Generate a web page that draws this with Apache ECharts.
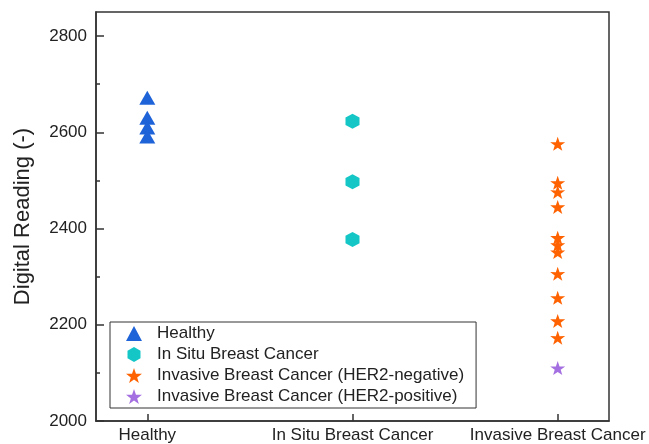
<!DOCTYPE html>
<html>
<head>
<meta charset="utf-8">
<script src="https://cdn.jsdelivr.net/npm/echarts@6/dist/echarts.min.js"></script>
<style>html,body{margin:0;padding:0;background:#fff;}#c{width:649px;height:444px;}</style>
</head>
<body>
<div id="c"></div>
<script>
var categories = ['Healthy', 'In Situ Breast Cancer', 'Invasive Breast Cancer'];
var seriesNames = ['Healthy', 'In Situ Breast Cancer', 'Invasive Breast Cancer (HER2-negative)', 'Invasive Breast Cancer (HER2-positive)'];
var healthy = [2672, 2630, 2610, 2591];
var inSitu = [2623, 2497, 2377];
var her2Negative = [2576, 2495, 2476, 2445, 2381, 2366, 2351, 2306, 2256, 2208, 2173];
var her2Positive = [2110];
var yMajorTicks = [2000, 2200, 2400, 2600, 2800];
var yMinorTicks = [2100, 2300, 2500, 2700];

var FONT = 'Liberation Sans';
var STAR = 'path://M50,0 L61.8,35.1 L98.1,34.5 L69.1,56.7 L79.4,90.5 L50,70 L20.6,90.5 L30.9,56.7 L1.9,34.5 L38.2,35.1 Z';
var HEX = 'path://M50,0 L93.3,25 L93.3,75 L50,100 L6.7,75 L6.7,25 Z';

function pts(xIdx, arr) { return arr.map(function (v) { return [xIdx + 1, v]; }); }

var chart = echarts.init(document.getElementById('c'), null, {renderer: 'canvas'});
chart.setOption({
  animation: false,
  backgroundColor: '#fff',
  grid: {left: 96, top: 12, right: 40, bottom: 21, show: true, borderColor: '#333', borderWidth: 1.5, backgroundColor: 'transparent'},
  xAxis: {
    type: 'value', min: 0.75, max: 3.25,
    axisLine: {show: true, onZero: false, lineStyle: {color: '#333', width: 1.5}},
    axisTick: {show: true, inside: true, length: 7, customValues: [1, 2, 3], lineStyle: {color: '#333', width: 1.5}},
    axisLabel: {customValues: [1, 2, 3], margin: 6, color: '#222', fontFamily: FONT, fontSize: 17,
      formatter: function (v) { return categories[Math.round(v) - 1] || ''; }},
    splitLine: {show: false}
  },
  yAxis: [{
    type: 'value', min: 2000, max: 2850,
    name: 'Digital Reading (-)', nameLocation: 'middle', nameGap: 62,
    nameTextStyle: {fontFamily: FONT, fontSize: 22, color: '#222'},
    axisLine: {show: true, lineStyle: {color: '#333', width: 1.5}},
    axisTick: {show: true, inside: true, length: 8, customValues: yMajorTicks, lineStyle: {color: '#333', width: 1.5}},
    axisLabel: {customValues: yMajorTicks, margin: 9, color: '#222', fontFamily: FONT, fontSize: 17,
      formatter: function (v) { return String(v); }},
    splitLine: {show: false}
  }, {
    type: 'value', min: 2000, max: 2850, position: 'left',
    axisLine: {show: false},
    axisTick: {show: true, inside: true, length: 4, customValues: yMinorTicks, lineStyle: {color: '#333', width: 1.5}},
    axisLabel: {show: false},
    splitLine: {show: false}
  }],
  legend: {
    orient: 'vertical', left: 110, top: 322,
    data: seriesNames,
    borderColor: '#333', borderWidth: 1, borderRadius: 0,
    padding: [3, 12, 3, 16],
    itemWidth: 16, itemHeight: 15, itemGap: 4,
    textStyle: {fontFamily: FONT, fontSize: 17, lineHeight: 17, color: '#222', padding: [0, 0, 0, 10]}
  },
  series: [
    {name: seriesNames[0], type: 'scatter', symbol: 'triangle', symbolSize: [16, 14], itemStyle: {color: '#1f63d8', opacity: 1}, data: pts(0, healthy)},
    {name: seriesNames[1], type: 'scatter', symbol: HEX, symbolSize: [14, 15], itemStyle: {color: '#14c6c6', opacity: 1}, data: pts(1, inSitu)},
    {name: seriesNames[2], type: 'scatter', symbol: STAR, symbolSize: [15, 14], itemStyle: {color: '#ff6200', opacity: 1}, data: pts(2, her2Negative)},
    {name: seriesNames[3], type: 'scatter', symbol: STAR, symbolSize: [15, 14], itemStyle: {color: '#a46fe0', opacity: 1}, data: pts(2, her2Positive)}
  ]
});
</script>
</body>
</html>
